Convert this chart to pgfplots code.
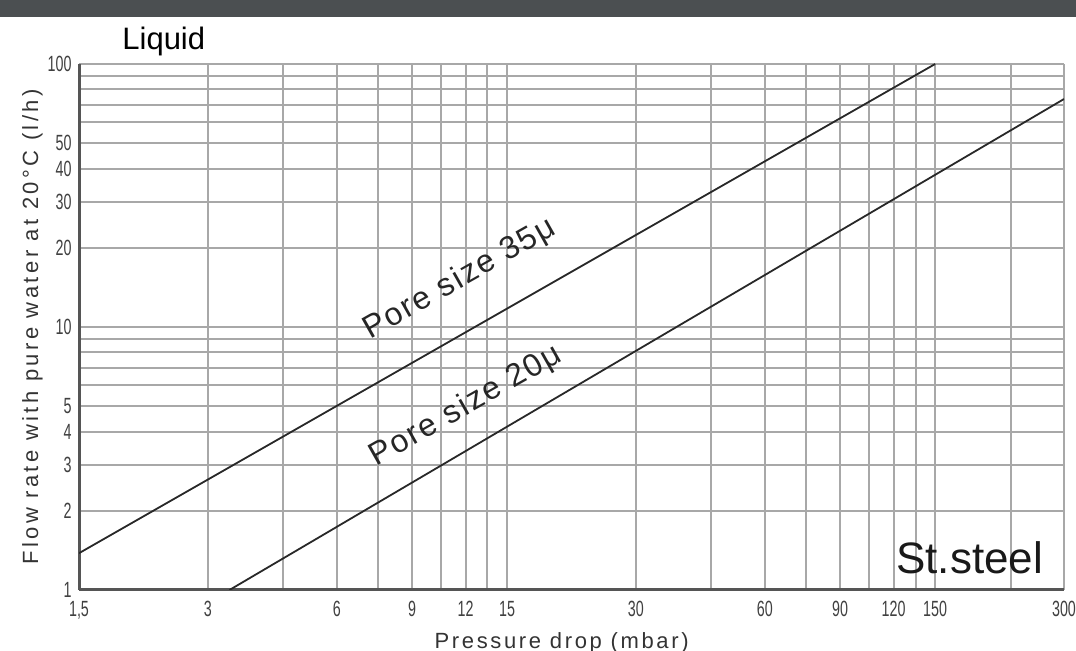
\documentclass[border=0pt]{standalone}
\usepackage{pgfplots}
\pgfplotsset{compat=1.18}
\usepackage{fontspec}
\setmainfont{Liberation Sans}
\newfontfamily\tickfont[FakeStretch=0.65]{Liberation Sans}
\newfontfamily\lblfont[LetterSpace=12]{Liberation Sans}
\newfontfamily\ylblfont[LetterSpace=15.5]{Liberation Sans}
\newfontfamily\porefont[LetterSpace=6]{Liberation Sans}
\definecolor{gridgray}{RGB}{168,168,168}
\definecolor{axisdark}{RGB}{85,85,85}
\definecolor{band}{RGB}{75,79,81}
\definecolor{curve}{RGB}{40,40,40}

\begin{document}
\begin{tikzpicture}
\path[use as bounding box] (-39.5pt,-30.5pt) rectangle (498.5pt,295pt);
\fill[band] (-39.5pt,286.5pt) rectangle (498.5pt,295pt);
\begin{axis}[
  at={(0,0)}, anchor=south west,
  scale only axis, width=492.5pt, height=263pt,
  xmode=log, ymode=log,
  xmin=1.5, xmax=300, ymin=1, ymax=100,
  axis x line=bottom, axis y line=left,
  axis line style={-, line width=1.5pt, color=axisdark},
  xtick={1.5,3,4.5,6,7.5,9,10.5,12,13.5,15,30,45,60,75,90,105,120,135,150,225,300},
  xticklabels={{1,5},3,,6,,9,,12,,15,30,,60,,90,,120,,150,,300},
  ytick={1,2,3,4,5,6,7,8,9,10,20,30,40,50,60,70,80,90,100},
  yticklabels={1,2,3,4,5,,,,,10,20,30,40,50,,,,,100},
  xminorticks=false, yminorticks=false,
  major tick length=0pt, minor tick length=0pt,
  grid=major, major grid style={line width=1pt, color=gridgray},
  /pgf/number format/assume math mode=true,
  tick label style={font=\tickfont\fontsize{11pt}{11pt}\selectfont, text=black!75},
  xticklabel style={anchor=base, inner sep=0pt, yshift=-13.5pt},
  yticklabel style={anchor=east, inner sep=0pt, xshift=-3.5pt},
  xlabel={Pressure drop (mbar)},
  xlabel style={at={(axis description cs:0.49,-0.1103)}, anchor=base, inner sep=0pt,
    font=\lblfont\fontsize{11pt}{11pt}\selectfont, text=black!80},
  ylabel={Flow rate with pure water at 20°C (l/h)},
  ylabel style={at={(axis description cs:-0.0416,0.5)}, anchor=base, inner sep=0pt,
    font=\ylblfont\fontsize{11pt}{11pt}\selectfont, text=black!80},
  title={Liquid},
  title style={at={(axis description cs:0,1)}, anchor=base west, inner sep=0pt,
    xshift=21.5pt, yshift=1pt, font=\fontsize{15.5pt}{16pt}\selectfont},
]
\addplot[curve, line width=0.9pt] coordinates {(1.5,1.38) (150,100)};
\addplot[curve, line width=0.9pt] coordinates {(3.37,1) (300,73.6)};
\node[font=\fontsize{22pt}{22pt}\selectfont, anchor=base west, inner sep=0pt, text=black!90]
  at (rel axis cs:0.8294,0.0323) {St.steel};
\node[font=\porefont\fontsize{16pt}{16pt}\selectfont, rotate=29.5, inner sep=0pt, text=black!85]
  at (rel axis cs:0.3868,0.5913) {Pore size 35μ};
\node[font=\porefont\fontsize{16pt}{16pt}\selectfont, rotate=29.5, inner sep=0pt, text=black!85]
  at (rel axis cs:0.3929,0.3498) {Pore size 20μ};
\end{axis}
\end{tikzpicture}
\end{document}
